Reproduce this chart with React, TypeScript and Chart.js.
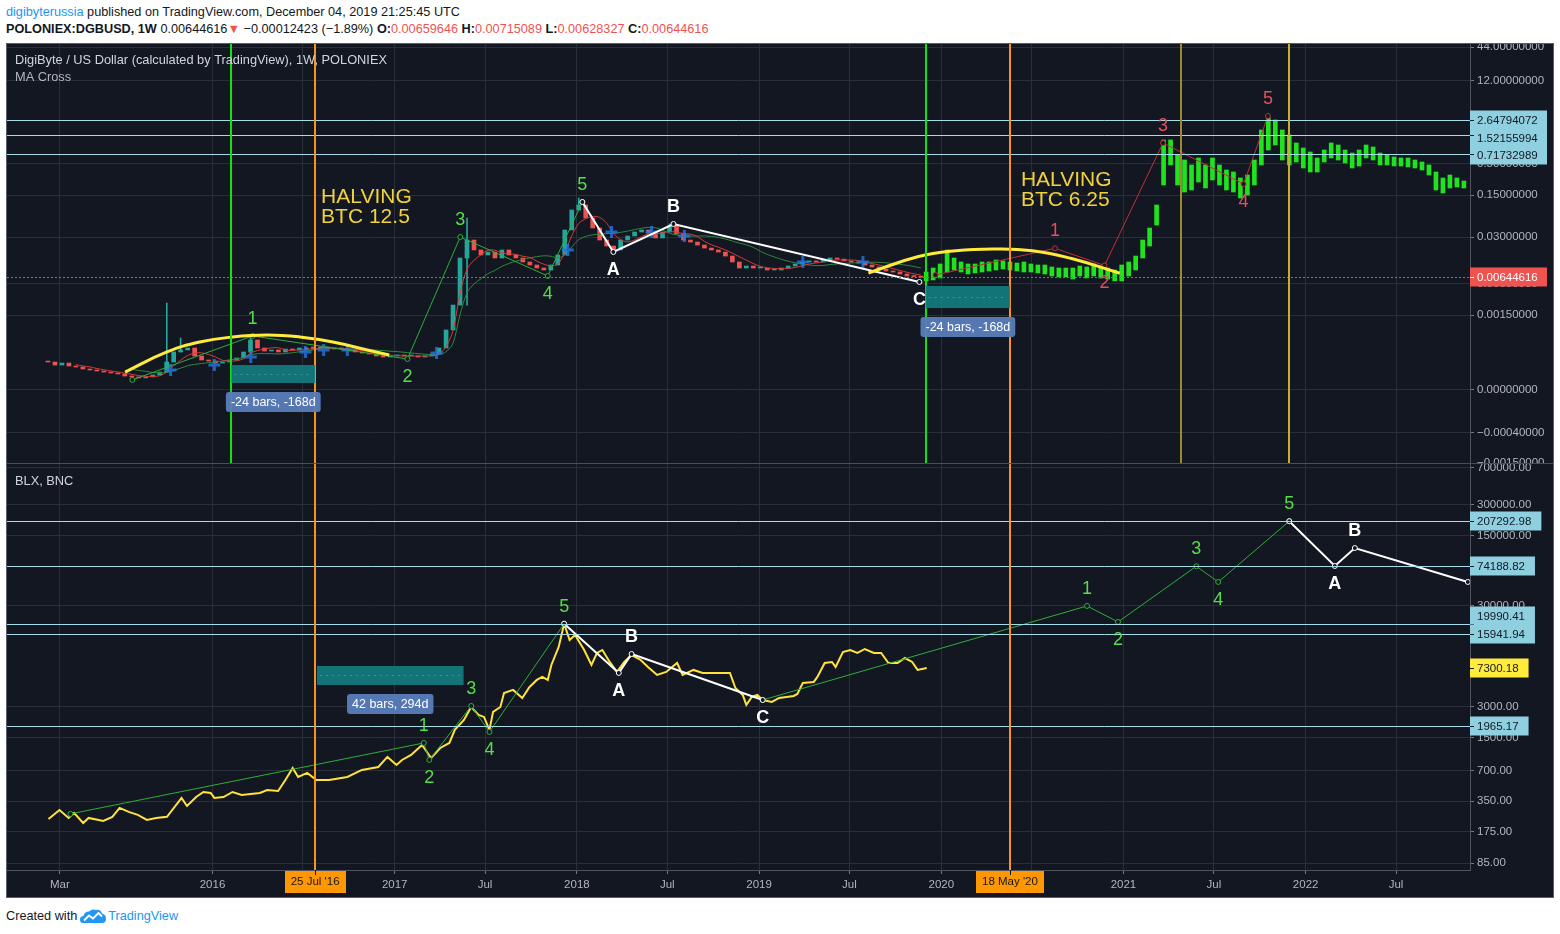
import React, { useEffect, useRef } from 'react';
import { Chart, registerables } from 'chart.js';

Chart.register(...registerables);

const FONT = "'Liberation Sans', Arial, Helvetica, sans-serif";
const BG = '#131722';
const GRID = '#2a2e39';
const AXIS_LINE = '#50535e';
const AXIS_TEXT = '#b2b5be';
const CYAN = '#a6dcea';
const CYAN_BOX = '#8fd0e0';
const ORANGE = '#f7931e';
const UP = '#26a69a';
const DOWN = '#ef5350';

// ===== X axis (fractional years) =====
const X_MIN = 2014.872;
const X_MAX = 2022.902;
const xTickValues = [2015.162, 2016, 2016.496, 2017, 2017.496, 2018, 2018.496, 2019, 2019.496, 2020, 2020.497, 2021, 2021.496, 2022, 2022.496];
const xTickLabels = ['Mar', '2016', 'Jul', '2017', 'Jul', '2018', 'Jul', '2019', 'Jul', '2020', 'Jul', '2021', 'Jul', '2022', 'Jul'];

// ===== top pane price axis (log) =====
const TOP_MIN = 0.000005152;
const TOP_MAX = 49.58;
const topTickValues = [44, 12, 0.5, 0.15, 0.03, 0.005, 0.0015, 0.0000849, 0.0000165, 0.000005152];
const topTickLabels = ['44.00000000', '12.00000000', '0.50000000', '0.15000000', '0.03000000', '0.00500000', '0.00150000', '0.00000000', '\u22120.00040000', '\u22120.00150000'];
const topLevels = [2.64794072, 1.52155994, 0.71732989];
const topLevelLabels = ['2.64794072', '1.52155994', '0.71732989'];
const topLevelShift = [0, 3, 1];
const LAST_PRICE = 0.00644616;

// ===== bottom pane axis (log) =====
const BOT_MIN = 72.9;
const BOT_MAX = 763800;
const botTickValues = [700000, 300000, 150000, 30000, 3000, 1500, 700, 350, 175, 85];
const botTickLabels = ['700000.00', '300000.00', '150000.00', '30000.00', '3000.00', '1500.00', '700.00', '350.00', '175.00', '85.00'];
const botLevels = [207292.98, 74188.82, 19990.41, 15941.94, 1965.17];
const botLevelLabels = ['207292.98', '74188.82', '19990.41', '15941.94', '1965.17'];
const botLevelShift = [0, 0, -8, 0, 0];
const BLX_LAST = 7300.18;

// ===== DGB two-week candles (close) =====
const DGB_START = 2015.097;
const DGB_STEP = 14 / 365.25;
const DGB_FIRST_OPEN = 0.000255;
const dgbClose = [
  0.000248, 0.000221, 0.000239, 0.000213, 0.000205, 0.000190, 0.000183, 0.000176, 0.000169, 0.000163,
  0.000157, 0.000145, 0.000140, 0.000135, 0.000140, 0.000151, 0.000169, 0.000248, 0.000365, 0.000394,
  0.000425, 0.000313, 0.000268, 0.000258, 0.000239, 0.000248, 0.000268, 0.000290, 0.000365, 0.000578,
  0.000425, 0.000379, 0.000394, 0.000365, 0.000409, 0.000394, 0.000425, 0.000409, 0.000442, 0.000425,
  0.000425, 0.000409, 0.000409, 0.000394, 0.000365, 0.000351, 0.000338, 0.000313, 0.000301, 0.000313,
  0.000325, 0.000313, 0.000313, 0.000301, 0.000313, 0.000338, 0.000425, 0.000849, 0.00221, 0.01345,
  0.0268, 0.0183, 0.0151, 0.0169, 0.01345, 0.0183, 0.0151, 0.01345, 0.01154, 0.01028,
  0.00916, 0.00849, 0.01028, 0.0151, 0.0394, 0.0849, 0.1028, 0.0624, 0.0425, 0.0268,
  0.0213, 0.0183, 0.0268, 0.0313, 0.0365, 0.0394, 0.0351, 0.0290, 0.0365, 0.0459,
  0.0338, 0.0268, 0.0248, 0.0221, 0.0197, 0.0183, 0.0169, 0.0145, 0.01154, 0.00916,
  0.00989, 0.00916, 0.00916, 0.00849, 0.00849, 0.00916, 0.00989, 0.01068, 0.01154, 0.0120,
  0.01154, 0.01245, 0.01345, 0.0129, 0.0120, 0.01154, 0.0111, 0.01028, 0.00952, 0.00882,
  0.00817, 0.00786, 0.00728, 0.00674, 0.00659, 0.00644616,
];
// long wicks
const wickT = [2015.749, 2015.825, 2016.209, 2017.397, 2018.010, 2018.508];
const wickLow = [0.000169, 0.000365, 0.000365, 0.00221, 0.0849, 0.0365];
const wickHigh = [0.00239, 0.000624, 0.000700, 0.0624, 0.1345, 0.0496];

// MA cross markers
const crossT = [2015.77, 2016.01, 2016.21, 2016.51, 2016.61, 2016.74, 2017.23, 2017.95, 2018.19, 2018.41, 2018.59, 2019.24, 2019.57];
const crossP = [0.000183, 0.000221, 0.000301, 0.000365, 0.000394, 0.000394, 0.000351, 0.0183, 0.0365, 0.0365, 0.0313, 0.01154, 0.01154];

// ===== projected green bars =====
const PROJ_START = 2019.917;
const PROJ_STEP = 14 / 365.25;
const projHigh = [
  0.00786, 0.00916, 0.01068, 0.0183, 0.01345, 0.01154, 0.01068, 0.01068, 0.01154, 0.01154,
  0.01245, 0.0120, 0.01154, 0.0111, 0.01154, 0.01068, 0.01028, 0.01028, 0.00952, 0.00916,
  0.00916, 0.00916, 0.00989, 0.00952, 0.01068, 0.00989, 0.00916, 0.00849, 0.01028, 0.01154,
  0.0145, 0.0268, 0.0425, 0.1028, 1.246, 1.246, 0.7004, 0.5782, 0.4772, 0.6243,
  0.4772, 0.6243, 0.4772, 0.3939, 0.3648, 0.2898, 0.3251, 0.5782, 1.829, 2.90,
  2.684, 1.829, 1.509, 1.111, 0.917, 0.7859, 0.6243, 0.8485, 1.111, 1.028,
  0.8485, 0.7563, 0.8485, 1.028, 0.952, 0.7563, 0.7004, 0.6487, 0.6243, 0.6243,
  0.5782, 0.5354, 0.4772, 0.3648, 0.2898, 0.3251, 0.2898, 0.2582,
];
const projLow = [
  0.00557, 0.00579, 0.00625, 0.00786, 0.00849, 0.00786, 0.00728, 0.00757, 0.00786, 0.00817,
  0.00849, 0.00882, 0.00849, 0.00817, 0.00786, 0.00786, 0.00757, 0.00728, 0.00674, 0.00649,
  0.00649, 0.00601, 0.00674, 0.00625, 0.00674, 0.00625, 0.00601, 0.00557, 0.00557, 0.00674,
  0.00849, 0.01345, 0.0213, 0.0476, 0.2215, 0.4772, 0.2215, 0.1693, 0.1829, 0.2485,
  0.1974, 0.2683, 0.2215, 0.1829, 0.1693, 0.1345, 0.1509, 0.2215, 0.4772, 0.8485,
  1.028, 0.5782, 0.4772, 0.5354, 0.4253, 0.3648, 0.3648, 0.5354, 0.6243, 0.5782,
  0.5153, 0.4253, 0.4593, 0.6243, 0.5782, 0.4772, 0.4772, 0.4593, 0.4593, 0.4420,
  0.4253, 0.3939, 0.3251, 0.1829, 0.1630, 0.1974, 0.2052, 0.1974,
];

// ===== arcs =====
const arc1T = [2015.52, 2015.75, 2015.93, 2016.11, 2016.30, 2016.48, 2016.66, 2016.85, 2016.97];
const arc1P = [0.000169, 0.000365, 0.000535, 0.000649, 0.000700, 0.000649, 0.000535, 0.000394, 0.000325];
const arc2T = [2019.60, 2019.87, 2020.08, 2020.29, 2020.50, 2020.71, 2020.98];
const arc2P = [0.00757, 0.0141, 0.0178, 0.0190, 0.0178, 0.0133, 0.00748];

// ===== waves, top =====
const tGreenT = [2015.56, 2016.22, 2017.07, 2017.36, 2017.84, 2018.03];
const tGreenP = [0.000125, 0.000675, 0.000279, 0.0301, 0.00675, 0.1154];
const tGreenL = ['', '1', '2', '3', '4', '5'];
const tWhiteT = [2018.03, 2018.20, 2018.53, 2019.88];
const tWhiteP = [0.1154, 0.01694, 0.0496, 0.00536];
const tWhiteL = ['', 'A', 'B', 'C'];
const tRedT = [2019.968, 2020.624, 2020.896, 2021.217, 2021.659, 2021.793];
const tRedP = [0.0070, 0.0195, 0.0101, 1.111, 0.2302, 3.13];
const tRedL = ['', '1', '2', '3', '4', '5'];

// ===== BLX =====
const blxT = [2015.10, 2015.16, 2015.21, 2015.24, 2015.29, 2015.32, 2015.40, 2015.45, 2015.49, 2015.54, 2015.59, 2015.64, 2015.69, 2015.75, 2015.83, 2015.86, 2015.91, 2015.95, 2015.99, 2016.01, 2016.06, 2016.11, 2016.16, 2016.26, 2016.30, 2016.36, 2016.40, 2016.44, 2016.47, 2016.52, 2016.57, 2016.64, 2016.74, 2016.82, 2016.91, 2016.96, 2017.01, 2017.04, 2017.09, 2017.15, 2017.20, 2017.25, 2017.30, 2017.33, 2017.38, 2017.42, 2017.46, 2017.49, 2017.52, 2017.54, 2017.58, 2017.60, 2017.65, 2017.70, 2017.74, 2017.78, 2017.81, 2017.84, 2017.86, 2017.90, 2017.93, 2017.96, 2017.99, 2018.04, 2018.08, 2018.11, 2018.14, 2018.18, 2018.22, 2018.26, 2018.30, 2018.35, 2018.39, 2018.44, 2018.49, 2018.55, 2018.58, 2018.64, 2018.69, 2018.77, 2018.84, 2018.87, 2018.91, 2018.93, 2018.96, 2018.99, 2019.02, 2019.07, 2019.11, 2019.19, 2019.21, 2019.24, 2019.30, 2019.32, 2019.36, 2019.40, 2019.42, 2019.46, 2019.50, 2019.54, 2019.58, 2019.63, 2019.67, 2019.71, 2019.76, 2019.80, 2019.84, 2019.87, 2019.92];
const blxV = [233, 286, 239, 268, 213, 239, 223, 245, 300, 274, 256, 228, 239, 245, 377, 314, 385, 432, 422, 377, 385, 432, 404, 422, 452, 442, 568, 747, 608, 667, 568, 568, 608, 714, 764, 960, 800, 896, 1004, 1262, 938, 1178, 1321, 1778, 2234, 3000, 2502, 2390, 1778, 2680, 3000, 4130, 4426, 3683, 4735, 5556, 5947, 5556, 7820, 11780, 19990, 13810, 15490, 11000, 7820, 10270, 11000, 8370, 6670, 8370, 9810, 8760, 7470, 6220, 6670, 8180, 6220, 6980, 6520, 6520, 6520, 4625, 3947, 3141, 3770, 3947, 3518, 3362, 3683, 3856, 4037, 5186, 5310, 5947, 8180, 8370, 7470, 10510, 11000, 10270, 11250, 10270, 10270, 8180, 8180, 9160, 8370, 6980, 7300.18];

// ===== waves, bottom =====
const bGreen1T = [2015.22, 2017.16, 2017.19, 2017.42, 2017.52, 2017.93];
const bGreen1V = [262, 1321, 896, 3069, 1698, 19990];
const bGreen1L = ['', '1', '2', '3', '4', '5'];
const bWhite1T = [2017.93, 2018.23, 2018.30, 2019.02];
const bWhite1V = [19990, 6520, 10040, 3518];
const bWhite1L = ['', 'A', 'B', 'C'];
const bGreen2T = [2019.02, 2020.80, 2020.97, 2021.40, 2021.52, 2021.91];
const bGreen2V = [3518, 30000, 20830, 74188.82, 51870, 207292.98];
const bGreen2L = ['', '1', '2', '3', '4', '5'];
const bWhite2T = [2021.91, 2022.16, 2022.27, 2022.89];
const bWhite2V = [207292.98, 74690, 112400, 51870];
const bWhite2L = ['', 'A', 'B', ''];

// ===== vertical markers & ranges =====
const greenLineT = [2016.104, 2019.915];
const orangeLineT = [2016.563, 2020.377];
const orangeLineLabels = ["25 Jul '16", "18 May '20"];
const goldLineT = [2021.316, 2021.909];
const topRanges = [
  { t0: 2016.104, t1: 2016.563, v0: 0.000221, v1: 0.000111, text: '-24 bars, -168d' },
  { t0: 2019.915, t1: 2020.377, v0: 0.00459, v1: 0.00197, text: '-24 bars, -168d' },
];
const botRange = { t0: 2016.573, t1: 2017.378, v0: 7640, v1: 4955, text: '42 bars, 294d' };
const halvingT = [2016.596, 2020.437];
const halvingP = [0.1398, 0.2683];
const halvingText = [['HALVING', 'BTC 12.5'], ['HALVING', 'BTC 6.25']];

// ---------- helpers ----------
function sma(arr: number[], n: number) {
  return arr.map((_, i) => {
    if (i < n - 1) return null;
    let s = 0;
    for (let j = i - n + 1; j <= i; j++) s += arr[j];
    return s / n;
  });
}
const pts = (ts: number[], vs: any[]) => ts.map((t, i) => ({ x: t, y: vs[i] }));

function hLine(ctx: any, x0: number, x1: number, y: number, color: string, w: number, dash?: number[]) {
  ctx.save();
  ctx.strokeStyle = color;
  ctx.lineWidth = w;
  if (dash) ctx.setLineDash(dash);
  const yy = Math.round(y) + (w % 2 === 1 ? 0.5 : 0);
  ctx.beginPath();
  ctx.moveTo(x0, yy);
  ctx.lineTo(x1, yy);
  ctx.stroke();
  ctx.restore();
}
function vLine(ctx: any, x: number, y0: number, y1: number, color: string, w: number) {
  ctx.save();
  ctx.strokeStyle = color;
  ctx.lineWidth = w;
  const xx = Math.round(x) + (w % 2 === 1 ? 0.5 : 0);
  ctx.beginPath();
  ctx.moveTo(xx, y0);
  ctx.lineTo(xx, y1);
  ctx.stroke();
  ctx.restore();
}
function roundRect(ctx: any, x: number, y: number, w: number, h: number, r: number) {
  ctx.beginPath();
  ctx.moveTo(x + r, y);
  ctx.arcTo(x + w, y, x + w, y + h, r);
  ctx.arcTo(x + w, y + h, x, y + h, r);
  ctx.arcTo(x, y + h, x, y, r);
  ctx.arcTo(x, y, x + w, y, r);
  ctx.closePath();
}
function drawRange(ctx: any, X: any, Y: any, r: any) {
  const x0 = X.getPixelForValue(r.t0), x1 = X.getPixelForValue(r.t1);
  const y0 = Y.getPixelForValue(r.v0), y1 = Y.getPixelForValue(r.v1);
  ctx.save();
  ctx.fillStyle = 'rgba(19,124,127,0.93)';
  ctx.fillRect(x0, y0, x1 - x0, y1 - y0);
  ctx.strokeStyle = 'rgba(140,210,210,0.35)';
  ctx.setLineDash([2, 4]);
  ctx.lineWidth = 1;
  ctx.beginPath();
  ctx.moveTo(x0 + 3, Math.round((y0 + y1) / 2) + 0.5);
  ctx.lineTo(x1 - 3, Math.round((y0 + y1) / 2) + 0.5);
  ctx.stroke();
  ctx.setLineDash([]);
  ctx.font = `12.5px ${FONT}`;
  const w = ctx.measureText(r.text).width + 10;
  const cx = (x0 + x1) / 2;
  const cy = y1 + 19;
  ctx.fillStyle = 'rgba(88,124,186,0.95)';
  roundRect(ctx, cx - w / 2, cy - 10, w, 20, 3);
  ctx.fill();
  ctx.fillStyle = '#ffffff';
  ctx.textAlign = 'center';
  ctx.textBaseline = 'middle';
  ctx.fillText(r.text, cx, cy + 0.5);
  ctx.restore();
}
function drawWaveLabels(ctx: any, X: any, Y: any, ts: number[], vs: number[], labels: string[], color: string, bold: boolean) {
  ctx.save();
  ctx.fillStyle = color;
  ctx.font = `${bold ? 'bold ' : ''}18px ${FONT}`;
  ctx.textAlign = 'center';
  ctx.textBaseline = 'middle';
  labels.forEach((lab, i) => {
    if (!lab) return;
    const prev = i > 0 ? vs[i - 1] : vs[i];
    const up = vs[i] >= prev;
    const x = X.getPixelForValue(ts[i]);
    const y = Y.getPixelForValue(vs[i]) + (up ? -17 : 18);
    ctx.fillText(lab, x, y);
  });
  ctx.restore();
}
function axisBox(ctx: any, area: any, y: number, text: string, bg: string, fg: string, fixedW?: number, shift = 0) {
  ctx.save();
  ctx.font = `11.5px ${FONT}`;
  const w = fixedW || ctx.measureText(text).width + 17;
  const ty = Math.round(y + shift);
  ctx.fillStyle = bg;
  ctx.fillRect(area.right, ty - 9.5, w, 19);
  ctx.strokeStyle = fg;
  ctx.lineWidth = 1;
  ctx.beginPath();
  ctx.moveTo(area.right, Math.round(y) + 0.5);
  ctx.lineTo(area.right + 4, Math.round(y) + 0.5);
  ctx.stroke();
  ctx.fillStyle = fg;
  ctx.textAlign = 'left';
  ctx.textBaseline = 'middle';
  ctx.fillText(text, area.right + 7, ty + 0.5);
  ctx.restore();
}

function xScale(show: boolean) {
  return {
    type: 'linear',
    min: X_MIN,
    max: X_MAX,
    offset: false,
    afterBuildTicks: (ax: any) => { ax.ticks = xTickValues.map((v) => ({ value: v })); },
    afterFit: (ax: any) => { ax.paddingLeft = 0; ax.paddingRight = 0; ax.height = show ? 27 : 0; },
    grid: { display: true, color: GRID, offset: false, drawTicks: show, tickLength: 4, tickColor: '#787b86' },
    border: { display: show, color: AXIS_LINE },
    ticks: {
      display: show, autoSkip: false, maxRotation: 0, minRotation: 0, padding: 4, color: AXIS_TEXT,
      font: { family: FONT, size: 11.5 },
      callback: (_v: any, i: number) => xTickLabels[i],
    },
  };
}
function yScale(min: number, max: number, vals: number[], labels: string[]) {
  return {
    type: 'logarithmic',
    position: 'right',
    min, max,
    beginAtZero: false,
    afterBuildTicks: (ax: any) => { ax.ticks = vals.map((v) => ({ value: v })); },
    afterFit: (ax: any) => { ax.width = 83; ax.paddingTop = 0; ax.paddingBottom = 0; },
    grid: { color: GRID, drawTicks: true, tickLength: 4, tickColor: '#787b86' },
    border: { display: true, color: AXIS_LINE },
    ticks: {
      autoSkip: false, padding: 3, color: AXIS_TEXT,
      font: { family: FONT, size: 11.5 },
      callback: (_v: any, i: number) => labels[i],
    },
  };
}
function waveDs(ts: number[], vs: number[], color: string, width: number, order: number) {
  return {
    type: 'line', data: pts(ts, vs), borderColor: color, borderWidth: width, tension: 0,
    pointRadius: 2.5, pointBorderWidth: 1, pointBackgroundColor: BG, pointBorderColor: color, order,
  };
}

const topOverlay = {
  id: 'topOverlay',
  afterDatasetsDraw(chart: any) {
    const { ctx, chartArea: a } = chart;
    const X = chart.scales.x, Y = chart.scales.y;
    ctx.save();
    ctx.beginPath();
    ctx.rect(a.left, a.top, a.right - a.left, a.bottom - a.top);
    ctx.clip();
    topLevels.forEach((v) => hLine(ctx, a.left, a.right, Y.getPixelForValue(v), CYAN, 1));
    hLine(ctx, a.left, a.right, Y.getPixelForValue(LAST_PRICE), '#ff3b44', 1, [2, 2]);
    greenLineT.forEach((t) => vLine(ctx, X.getPixelForValue(t), a.top, a.bottom, '#14e014', 2));
    orangeLineT.forEach((t) => vLine(ctx, X.getPixelForValue(t), a.top, a.bottom, ORANGE, 2));
    vLine(ctx, X.getPixelForValue(goldLineT[0]), a.top, a.bottom, '#9c8a32', 2);
    vLine(ctx, X.getPixelForValue(goldLineT[1]), a.top, a.bottom, '#c9ad30', 2);
    topRanges.forEach((r) => drawRange(ctx, X, Y, r));
    drawWaveLabels(ctx, X, Y, tGreenT, tGreenP, tGreenL, '#56dd4a', false);
    drawWaveLabels(ctx, X, Y, tWhiteT, tWhiteP, tWhiteL, '#ffffff', true);
    drawWaveLabels(ctx, X, Y, tRedT, tRedP, tRedL, '#e5505c', false);
    ctx.fillStyle = '#f2d23c';
    ctx.font = `21px ${FONT}`;
    ctx.textAlign = 'left';
    ctx.textBaseline = 'middle';
    halvingT.forEach((t, i) => {
      const x = X.getPixelForValue(t), y = Y.getPixelForValue(halvingP[i]);
      ctx.fillText(halvingText[i][0], x, y);
      ctx.fillText(halvingText[i][1], x, y + 20);
    });
    ctx.fillStyle = '#d1d4dc';
    ctx.font = `12.8px ${FONT}`;
    ctx.fillText('DigiByte / US Dollar (calculated by TradingView), 1W, POLONIEX', a.left + 8, a.top + 16);
    ctx.fillStyle = '#b2b5be';
    ctx.fillText('MA Cross', a.left + 8, a.top + 33);
    ctx.restore();
  },
  afterDraw(chart: any) {
    const { ctx, chartArea: a } = chart;
    const Y = chart.scales.y;
    topLevels.forEach((v, i) => axisBox(ctx, a, Y.getPixelForValue(v), topLevelLabels[i], CYAN_BOX, '#131722', 77, topLevelShift[i]));
    axisBox(ctx, a, Y.getPixelForValue(LAST_PRICE), '0.00644616', '#ef5350', '#ffffff', 77);
  },
};

const botOverlay = {
  id: 'botOverlay',
  afterDatasetsDraw(chart: any) {
    const { ctx, chartArea: a } = chart;
    const X = chart.scales.x, Y = chart.scales.y;
    ctx.save();
    ctx.beginPath();
    ctx.rect(a.left, a.top, a.right - a.left, a.bottom - a.top);
    ctx.clip();
    botLevels.forEach((v) => hLine(ctx, a.left, a.right, Y.getPixelForValue(v), CYAN, 1));
    orangeLineT.forEach((t) => vLine(ctx, X.getPixelForValue(t), a.top, a.bottom, ORANGE, 2));
    drawRange(ctx, X, Y, botRange);
    drawWaveLabels(ctx, X, Y, bGreen1T, bGreen1V, bGreen1L, '#56dd4a', false);
    drawWaveLabels(ctx, X, Y, bWhite1T, bWhite1V, bWhite1L, '#ffffff', true);
    drawWaveLabels(ctx, X, Y, bGreen2T, bGreen2V, bGreen2L, '#56dd4a', false);
    drawWaveLabels(ctx, X, Y, bWhite2T, bWhite2V, bWhite2L, '#ffffff', true);
    ctx.fillStyle = '#d1d4dc';
    ctx.font = `12.8px ${FONT}`;
    ctx.textAlign = 'left';
    ctx.textBaseline = 'middle';
    ctx.fillText('BLX, BNC', a.left + 8, a.top + 17);
    ctx.restore();
  },
  afterDraw(chart: any) {
    const { ctx, chartArea: a } = chart;
    const X = chart.scales.x, Y = chart.scales.y;
    botLevels.forEach((v, i) => axisBox(ctx, a, Y.getPixelForValue(v), botLevelLabels[i], CYAN_BOX, '#131722', 0, botLevelShift[i]));
    axisBox(ctx, a, Y.getPixelForValue(BLX_LAST), '7300.18', '#ffeb3b', '#131722');
    // orange date labels on the time axis
    ctx.save();
    ctx.font = `11.5px ${FONT}`;
    orangeLineT.forEach((t, i) => {
      const x = X.getPixelForValue(t);
      const w = ctx.measureText(orangeLineLabels[i]).width + 12;
      ctx.fillStyle = '#ff9800';
      ctx.fillRect(Math.round(x - w / 2), a.bottom + 1, Math.round(w), 22);
      ctx.fillStyle = '#131722';
      ctx.textAlign = 'center';
      ctx.textBaseline = 'middle';
      ctx.fillText(orangeLineLabels[i], x, a.bottom + 12);
      vLine(ctx, x, a.bottom, a.bottom + 5, '#131722', 1);
    });
    ctx.restore();
  },
};

function buildTop(canvas: HTMLCanvasElement) {
  const dgbT = dgbClose.map((_, i) => DGB_START + i * DGB_STEP);
  const dgbOpen = dgbClose.map((c, i) => (i === 0 ? DGB_FIRST_OPEN : dgbClose[i - 1]));
  const candleCol = dgbClose.map((c, i) => (c >= dgbOpen[i] ? UP : DOWN));
  const projT = projHigh.map((_, i) => PROJ_START + i * PROJ_STEP);
  const maFast = sma(dgbClose, 5);
  const maSlow = sma(dgbClose, 13);
  return new Chart(canvas, {
    type: 'bar',
    data: {
      datasets: [
        { type: 'line', data: pts(arc1T, arc1P), borderColor: '#ffeb3b', borderWidth: 3, tension: 0.45, pointRadius: 0, order: 1 },
        { type: 'line', data: pts(arc2T, arc2P), borderColor: '#ffeb3b', borderWidth: 3, tension: 0.45, pointRadius: 0, order: 1 },
        waveDs(tWhiteT, tWhiteP, '#ffffff', 2, 2),
        waveDs(tGreenT, tGreenP, '#2fae3a', 1, 2),
        waveDs(tRedT, tRedP, '#c0303c', 1, 2),
        { type: 'line', data: pts(crossT, crossP), showLine: false, pointStyle: 'cross', pointRadius: 6, pointBorderWidth: 3, pointBorderColor: 'rgba(33,120,230,0.8)', order: 3 },
        { type: 'line', data: pts(dgbT, maFast), borderColor: '#d83a3a', borderWidth: 1, pointRadius: 0, tension: 0.3, order: 5 },
        { type: 'line', data: pts(dgbT, maSlow), borderColor: '#2e8a3c', borderWidth: 1, pointRadius: 0, tension: 0.3, order: 5 },
        { type: 'bar', data: dgbT.map((t, i) => ({ x: t, y: [dgbOpen[i], dgbClose[i]] })), backgroundColor: candleCol, barThickness: 4, grouped: false, minBarLength: 1, borderWidth: 0, order: 7 },
        { type: 'bar', data: pts(wickT, wickT.map((_, i) => [wickLow[i], wickHigh[i]])), backgroundColor: UP, barThickness: 1, grouped: false, borderWidth: 0, order: 8 },
        { type: 'bar', data: projT.map((t, i) => ({ x: t, y: [projLow[i], projHigh[i]] })), backgroundColor: '#1fe31f', barThickness: 4, grouped: false, minBarLength: 2, borderWidth: 0, order: 7 },
      ],
    } as any,
    options: {
      responsive: false,
      animation: false,
      events: [],
      layout: { padding: 0, autoPadding: false },
      plugins: { legend: { display: false }, tooltip: { enabled: false } },
      scales: {
        x: xScale(false),
        y: yScale(TOP_MIN, TOP_MAX, topTickValues, topTickLabels),
      },
    } as any,
    plugins: [topOverlay],
  });
}

function buildBottom(canvas: HTMLCanvasElement) {
  return new Chart(canvas, {
    type: 'line',
    data: {
      datasets: [
        waveDs(bWhite1T, bWhite1V, '#ffffff', 2, 1),
        waveDs(bWhite2T, bWhite2V, '#ffffff', 2, 1),
        waveDs(bGreen1T, bGreen1V, '#2fae3a', 1, 2),
        waveDs(bGreen2T, bGreen2V, '#2fae3a', 1, 2),
        { type: 'line', data: pts(blxT, blxV), borderColor: '#ffe23c', borderWidth: 2, pointRadius: 0, tension: 0, order: 3 },
      ],
    } as any,
    options: {
      responsive: false,
      animation: false,
      events: [],
      layout: { padding: 0, autoPadding: false },
      plugins: { legend: { display: false }, tooltip: { enabled: false } },
      scales: {
        x: xScale(true),
        y: yScale(BOT_MIN, BOT_MAX, botTickValues, botTickLabels),
      },
    } as any,
    plugins: [botOverlay],
  });
}

export default function App() {
  const topRef = useRef<HTMLCanvasElement | null>(null);
  const botRef = useRef<HTMLCanvasElement | null>(null);
  useEffect(() => {
    const c1 = buildTop(topRef.current as HTMLCanvasElement);
    const c2 = buildBottom(botRef.current as HTMLCanvasElement);
    return () => {
      c1.destroy();
      c2.destroy();
    };
  }, []);
  const red = { color: '#ef5350' };
  const hdr = { position: 'absolute' as const, left: 6, fontSize: 12.7, lineHeight: '16px', color: '#131722', whiteSpace: 'nowrap' as const };
  return (
    <div style={{ position: 'absolute', left: 0, top: 0, width: 1560, height: 934, background: '#ffffff', fontFamily: FONT, overflow: 'hidden' }}>
      <div style={{ ...hdr, top: 4 }}>
        <span style={{ color: '#2196f3' }}>digibyterussia</span> published on TradingView.com, December 04, 2019 21:25:45 UTC
      </div>
      <div style={{ ...hdr, top: 21 }}>
        <b>POLONIEX:DGBUSD, 1W</b> 0.00644616<span style={red}>{'\u25BC'}</span> {'\u2212'}0.00012423 ({'\u2212'}1.89%) <b>O:</b><span style={red}>0.00659646</span> <b>H:</b><span style={red}>0.00715089</span> <b>L:</b><span style={red}>0.00628327</span> <b>C:</b><span style={red}>0.00644616</span>
      </div>
      <div style={{ position: 'absolute', left: 6, top: 43, width: 1548, height: 855, background: BG, boxSizing: 'border-box', border: '1px solid #5a5e68' }} />
      <canvas ref={topRef} width={1546} height={419} style={{ position: 'absolute', left: 7, top: 44, width: 1546, height: 419 }} />
      <div style={{ position: 'absolute', left: 7, top: 463, width: 1546, height: 1, background: '#4a4e59' }} />
      <canvas ref={botRef} width={1546} height={433} style={{ position: 'absolute', left: 7, top: 464, width: 1546, height: 433 }} />
      <div style={{ ...hdr, top: 908, display: 'flex', alignItems: 'center' }}>
        <span>Created with</span>
        <svg width="26" height="16" viewBox="0 0 26 16" style={{ marginLeft: 3, marginRight: 2 }}>
          <path d="M3 15 Q0 15 0 11.5 Q0 8 3.5 8 Q4.5 3.5 9 3.5 Q12 0.5 16 2 Q20.5 1 22 5.5 Q26 6.5 26 10.5 Q26 15 22 15 Z" fill="#2196f3" />
          <polyline points="4,12.5 9,7.5 13,10.5 18.5,5 22,8.5" stroke="#ffffff" strokeWidth="1.8" fill="none" />
        </svg>
        <span style={{ color: '#2196f3' }}>TradingView</span>
      </div>
    </div>
  );
}
